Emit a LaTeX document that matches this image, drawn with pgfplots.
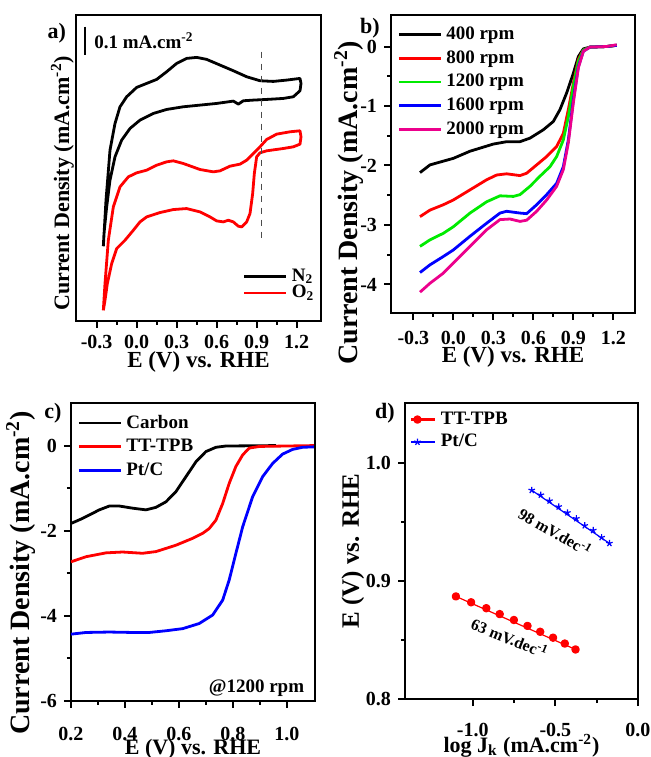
\documentclass[border=0pt]{standalone}
\usepackage{fontspec}
\setmainfont{Liberation Serif}
\usepackage{pgfplots}
\pgfplotsset{compat=1.18}

\pgfplotsset{
  panel/.style={
    scale only axis, clip mode=individual,
    axis line style={line width=1.2pt},
    tick style={line width=1pt, black},
    tick align=outside,
    xtick pos=bottom, ytick pos=left,
    major tick length=3.5pt, minor tick length=2pt,
    /pgf/number format/assume math mode=true,
    ticklabel style={font=\bfseries\fontsize{10}{12}\selectfont},
    label style={font=\bfseries\fontsize{11.5}{13}\selectfont},
    legend style={draw=none, fill=none, inner sep=0pt, font=\bfseries\fontsize{9.5}{11}\selectfont},
    legend cell align=left,
    every axis plot/.append style={line width=1.4pt, line join=round},
  },
  longline/.style={legend image code/.code={\draw[##1] (0pt,0pt) -- (21pt,0pt);}},
  dotleg/.style={legend image code/.code={\path (0pt,0pt) -- (12pt,0pt); \draw[##1] plot coordinates {(3pt,0pt)};}},
  onedec/.style={/pgf/number format/.cd, fixed, fixed zerofill, precision=1},
}
\definecolor{cvgreen}{RGB}{0,235,0}

\begin{document}
\begin{tikzpicture}
\useasboundingbox (0,0) rectangle (325.5pt,378.5pt);

% ---------- a) CV in N2 / O2
\begin{axis}[panel, longline,
    at={(38pt,218pt)}, anchor=south west,
    width=122.5pt, height=153pt,
    xmin=-0.455, xmax=1.3825, ymin=38, ymax=955,
    xtick={-0.3,0,0.3,0.6,0.9,1.2}, minor x tick num=1,
    xticklabel style={onedec},
    ytick=\empty,
    xlabel={E (V) vs. RHE},
    xlabel style={yshift=5.5pt},
    ylabel={Current Density (mA.cm\textsuperscript{-2})},
    ylabel style={at={(ticklabel cs:0.45)}, font=\bfseries\fontsize{11}{13}\selectfont}, ylabel shift=-6pt,
    legend style={at={(0.68,0.185)}, anchor=north west, row sep=-3.5pt},
]
\addplot[black] coordinates {
(-0.25,262) (-0.23,400) (-0.20,550) (-0.1625,630) (-0.125,680) (-0.075,710) (0.0,738)
(0.075,750) (0.15,762) (0.225,785) (0.30,810) (0.375,825) (0.45,828) (0.525,822)
(0.625,805) (0.725,788) (0.825,770) (0.925,758) (1.025,756) (1.125,760) (1.225,765)
(1.2325,750) (1.225,728) (1.175,710) (1.10,705) (0.975,702) (0.875,700) (0.80,698)
(0.7625,688) (0.725,697) (0.60,690) (0.475,685) (0.35,680) (0.225,672) (0.125,660)
(0.025,640) (-0.05,615) (-0.1125,580) (-0.1625,530) (-0.20,460) (-0.225,380)
(-0.245,300) (-0.25,262)
};
\addplot[red] coordinates {
(-0.25,70) (-0.2375,150) (-0.2125,280) (-0.175,380) (-0.125,440) (-0.0625,470)
(0.0,482) (0.075,490) (0.15,505) (0.225,515) (0.275,518) (0.35,510) (0.475,492)
(0.575,485) (0.625,488) (0.70,502) (0.775,508) (0.825,520) (0.875,540) (0.925,560)
(0.975,582) (1.05,598) (1.15,605) (1.225,608) (1.2325,590) (1.225,568) (1.175,560)
(1.10,555) (0.975,548) (0.925,542) (0.90,530) (0.8825,480) (0.87,420) (0.85,360)
(0.825,335) (0.7875,320) (0.7625,322) (0.725,335) (0.6875,340) (0.65,335) (0.60,338)
(0.55,350) (0.475,365) (0.375,375) (0.275,372) (0.175,363) (0.075,350) (0.025,335)
(-0.025,310) (-0.0875,280) (-0.15,255) (-0.1875,210) (-0.22,150) (-0.2375,100) (-0.25,70)
};
\addplot[forget plot, dashed, black!70, line width=0.6pt] coordinates {(0.9375,845) (0.9375,285)};
\addplot[forget plot, black, line width=1.2pt] coordinates {(-0.3875,920) (-0.3875,835)};
\node[anchor=west, font=\bfseries\fontsize{9.5}{11}\selectfont] at (axis cs:-0.37,878) {0.1 mA.cm\textsuperscript{-2}};
\node[font=\bfseries\fontsize{11}{13}\selectfont] at (rel axis cs:-0.078,0.94) {a)};
\legend{N\textsubscript{2}, O\textsubscript{2}}
\end{axis}

% ---------- b) LSV at different rotation rates
\begin{axis}[panel, longline,
    at={(195.5pt,222pt)}, anchor=south west,
    width=122pt, height=149pt,
    xmin=-0.4675, xmax=1.3625, ymin=-4.48, ymax=0.53,
    xtick={-0.3,0,0.3,0.6,0.9,1.2}, minor x tick num=1,
    xticklabel style={yshift=-2pt, onedec},
    ytick={-4,-3,-2,-1,0}, minor y tick num=1,
    xlabel={E (V) vs. RHE},
    xlabel style={yshift=6pt},
    ylabel={Current Density (mA.cm\textsuperscript{-2})},
    ylabel style={at={(ticklabel cs:0.37)}, font=\bfseries\fontsize{14}{16}\selectfont}, ylabel shift=-8.5pt,
    legend style={at={(0.025,0.975)}, anchor=north west},
]
\addplot[black] coordinates {
(-0.25,-2.12) (-0.175,-1.99) (0.0,-1.88) (0.125,-1.76) (0.30,-1.64) (0.40,-1.60)
(0.50,-1.60) (0.575,-1.54) (0.675,-1.40) (0.75,-1.26) (0.80,-1.06) (0.85,-0.78)
(0.90,-0.45) (0.9375,-0.17) (0.975,-0.04) (1.025,-0.01) (1.15,0.0) (1.225,0.02)
};
\addplot[red] coordinates {
(-0.25,-2.86) (-0.175,-2.75) (-0.075,-2.66) (0.0,-2.58) (0.125,-2.41) (0.25,-2.24)
(0.325,-2.16) (0.40,-2.14) (0.50,-2.17) (0.55,-2.13) (0.625,-1.99) (0.70,-1.85)
(0.775,-1.68) (0.825,-1.46) (0.8625,-1.06) (0.90,-0.62) (0.9375,-0.22) (0.975,-0.06)
(1.025,-0.01) (1.15,0.0) (1.225,0.02)
};
\addplot[cvgreen] coordinates {
(-0.25,-3.36) (-0.175,-3.25) (-0.075,-3.14) (0.0,-3.03) (0.125,-2.80) (0.25,-2.61)
(0.35,-2.51) (0.45,-2.52) (0.50,-2.49) (0.575,-2.35) (0.65,-2.18) (0.725,-2.02)
(0.775,-1.85) (0.825,-1.57) (0.8625,-1.18) (0.90,-0.67) (0.9375,-0.25) (0.975,-0.06)
(1.025,-0.01) (1.15,0.0) (1.225,0.02)
};
\addplot[blue] coordinates {
(-0.25,-3.80) (-0.175,-3.67) (-0.075,-3.53) (0.0,-3.42) (0.125,-3.19) (0.25,-2.97)
(0.35,-2.80) (0.40,-2.77) (0.50,-2.80) (0.55,-2.81) (0.625,-2.66) (0.70,-2.49)
(0.775,-2.30) (0.825,-2.02) (0.8625,-1.57) (0.90,-0.90) (0.9375,-0.34) (0.975,-0.08)
(1.025,-0.01) (1.15,0.0) (1.225,0.02)
};
\addplot[magenta] coordinates {
(-0.25,-4.13) (-0.175,-3.98) (-0.075,-3.81) (0.0,-3.64) (0.125,-3.36) (0.25,-3.08)
(0.35,-2.91) (0.425,-2.90) (0.50,-2.94) (0.55,-2.92) (0.625,-2.77) (0.70,-2.58)
(0.775,-2.35) (0.825,-2.07) (0.8625,-1.62) (0.90,-0.95) (0.9375,-0.36) (0.975,-0.08)
(1.025,-0.01) (1.15,0.0) (1.225,0.03)
};
\node[font=\bfseries\fontsize{11}{13}\selectfont] at (rel axis cs:-0.086,0.955) {b)};
\legend{400 rpm, 800 rpm, 1200 rpm, 1600 rpm, 2000 rpm}
\end{axis}

% ---------- c) comparison at 1200 rpm
\begin{axis}[panel, longline,
    at={(35.5pt,28pt)}, anchor=south west,
    width=122pt, height=149pt,
    xmin=0.2, xmax=1.104, ymin=-6, ymax=1,
    xtick={0.2,0.4,0.6,0.8,1.0}, minor x tick num=1,
    xticklabel style={yshift=-6pt, onedec},
    ytick={-6,-4,-2,0}, minor y tick num=1,
    xlabel={E (V) vs. RHE},
    xlabel style={yshift=7.5pt, font=\bfseries\fontsize{11}{13}\selectfont},
    ylabel={Current Density (mA.cm\textsuperscript{-2})},
    ylabel style={at={(ticklabel cs:0.43)}, font=\bfseries\fontsize{14}{16}\selectfont}, ylabel shift=-4.5pt,
    legend style={at={(0.025,0.975)}, anchor=north west},
]
\addplot[black] coordinates {
(0.2,-1.83) (0.243,-1.71) (0.305,-1.51) (0.342,-1.42) (0.379,-1.42) (0.428,-1.47)
(0.478,-1.51) (0.515,-1.45) (0.552,-1.32) (0.589,-1.08) (0.626,-0.73) (0.663,-0.38)
(0.70,-0.14) (0.737,-0.04) (0.774,-0.01) (0.96,0.0)
};
\addplot[red] coordinates {
(0.2,-2.73) (0.256,-2.61) (0.33,-2.52) (0.391,-2.50) (0.465,-2.53) (0.515,-2.49)
(0.589,-2.34) (0.65,-2.18) (0.688,-2.06) (0.712,-1.95) (0.737,-1.75) (0.762,-1.36)
(0.786,-0.89) (0.811,-0.49) (0.836,-0.22) (0.86,-0.06) (0.898,-0.02) (1.1,0.0)
};
\addplot[blue] coordinates {
(0.2,-4.43) (0.256,-4.39) (0.342,-4.38) (0.428,-4.39) (0.49,-4.39) (0.552,-4.35)
(0.614,-4.30) (0.675,-4.18) (0.725,-3.98) (0.762,-3.63) (0.786,-3.16) (0.811,-2.53)
(0.836,-1.91) (0.873,-1.20) (0.91,-0.73) (0.947,-0.42) (0.984,-0.20) (1.021,-0.09)
(1.058,-0.04) (1.10,-0.03)
};
\node[anchor=east, font=\bfseries\fontsize{9.5}{11}\selectfont] at (axis cs:1.09,-5.71) {@1200 rpm};
\node[font=\bfseries\fontsize{11}{13}\selectfont] at (rel axis cs:-0.074,0.966) {c)};
\legend{Carbon, TT-TPB, Pt/C}
\end{axis}

% ---------- d) Tafel plots
\begin{axis}[panel,
    at={(202.5pt,29pt)}, anchor=south west,
    width=116.5pt, height=148pt,
    xmin=-1.41, xmax=0, ymin=0.8, ymax=1.051,
    xtick={-1,-0.5,0}, minor x tick num=1,
    xticklabel style={yshift=-5pt, onedec},
    ytick={0.8,0.9,1.0}, minor y tick num=1,
    yticklabel style={onedec},
    xlabel={log J\textsubscript{k} (mA.cm\textsuperscript{-2})},
    xlabel style={yshift=8pt, font=\bfseries\fontsize{11}{13}\selectfont},
    ylabel={E (V) vs. RHE},
    ylabel shift=-6pt,
    ylabel style={font=\bfseries\fontsize{12.5}{14}\selectfont},
    legend style={at={(0.02,0.985)}, anchor=north west, row sep=-0.5pt},
]
% fitted lines
\addplot[forget plot, red, line width=0.6pt] coordinates {(-1.102,0.887) (-0.378,0.842)};
\addplot[forget plot, blue, line width=0.6pt] coordinates {(-0.643,0.977) (-0.173,0.932)};
% data points
\addplot[red, only marks, mark=*, mark size=1.4pt, dotleg] coordinates {
(-1.102,0.887) (-1.01,0.882) (-0.918,0.877) (-0.837,0.872) (-0.751,0.867)
(-0.669,0.862) (-0.592,0.857) (-0.514,0.852) (-0.443,0.847) (-0.378,0.842)
};
\addplot[blue, only marks, mark=star, mark size=1.7pt, line width=0.6pt, dotleg] coordinates {
(-0.643,0.977) (-0.588,0.973) (-0.535,0.968) (-0.48,0.963) (-0.427,0.958)
(-0.373,0.953) (-0.322,0.947) (-0.271,0.943) (-0.22,0.937) (-0.173,0.932)
};
\node[rotate=-30, font=\bfseries\fontsize{8}{9}\selectfont] at (axis cs:-0.5,0.942) {98 mV.dec\textsuperscript{-1}};
\node[rotate=-22, font=\bfseries\fontsize{8}{9}\selectfont] at (axis cs:-0.776,0.852) {63 mV.dec\textsuperscript{-1}};
\node[font=\bfseries\fontsize{11}{13}\selectfont] at (rel axis cs:-0.086,0.966) {d)};
\legend{TT-TPB, Pt/C}
\end{axis}
\end{tikzpicture}
\end{document}
